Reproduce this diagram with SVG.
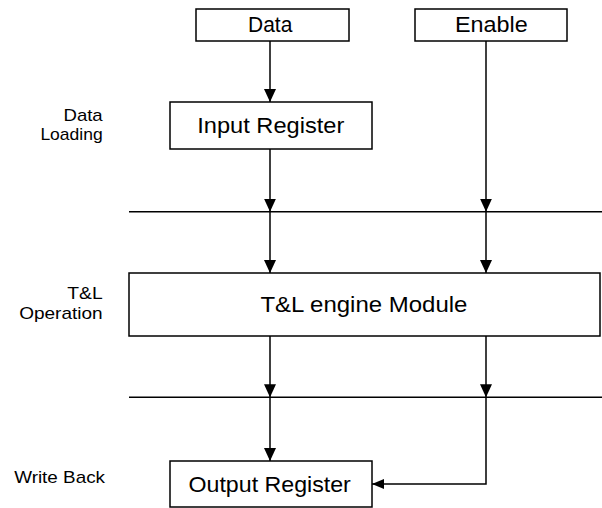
<svg xmlns="http://www.w3.org/2000/svg" width="602" height="508" viewBox="0 0 602 508">
  <style>
    .box { fill: #ffffff; stroke: #000000; stroke-width: 1.5; }
    .lbl { font-family: "Liberation Sans", Arial, sans-serif; font-size: 22px; fill: #000000; }
    .stage { font-family: "Liberation Sans", Arial, sans-serif; font-size: 17px; fill: #000000; }
    .sep { stroke: #000000; stroke-width: 1.5; fill: none; }
    .conn { stroke: #000000; stroke-width: 1.5; fill: none; }
  </style>
  <defs>
    <marker id="arrV" markerUnits="userSpaceOnUse" markerWidth="13" markerHeight="12" refX="13" refY="6" orient="auto">
      <path d="M0,0 L13,6 L0,12 Z" fill="#000000"/>
    </marker>
    <marker id="arrH" markerUnits="userSpaceOnUse" markerWidth="12" markerHeight="10" refX="12" refY="5" orient="auto">
      <path d="M0,0 L12,5 L0,10 Z" fill="#000000"/>
    </marker>
  </defs>
  <rect width="602" height="508" fill="#ffffff"/>

  <g id="stage-lines">
    <line class="sep" x1="129" y1="211.7" x2="602" y2="211.7"/>
    <line class="sep" x1="129" y1="397.3" x2="602" y2="397.3"/>
  </g>

  <g id="stage-labels">
    <text class="stage" x="63.5" y="120.5" textLength="39.2" lengthAdjust="spacingAndGlyphs">Data</text>
    <text class="stage" x="40.4" y="140" textLength="62.3" lengthAdjust="spacingAndGlyphs">Loading</text>
    <text class="stage" x="67.3" y="299" textLength="35.4" lengthAdjust="spacingAndGlyphs">T&amp;L</text>
    <text class="stage" x="19.2" y="318.5" textLength="83.5" lengthAdjust="spacingAndGlyphs">Operation</text>
    <text class="stage" x="14.2" y="483" textLength="90.8" lengthAdjust="spacingAndGlyphs">Write Back</text>
  </g>

  <g id="connectors">
    <line class="conn" x1="270" y1="41" x2="270" y2="102" marker-end="url(#arrV)"/>
    <line class="conn" x1="270" y1="149" x2="270" y2="211.7" marker-end="url(#arrV)"/>
    <line class="conn" x1="486" y1="41" x2="486" y2="211.7" marker-end="url(#arrV)"/>
    <line class="conn" x1="270" y1="211.7" x2="270" y2="273" marker-end="url(#arrV)"/>
    <line class="conn" x1="486" y1="211.7" x2="486" y2="273" marker-end="url(#arrV)"/>
    <line class="conn" x1="270" y1="336" x2="270" y2="397.3" marker-end="url(#arrV)"/>
    <line class="conn" x1="486" y1="336" x2="486" y2="397.3" marker-end="url(#arrV)"/>
    <line class="conn" x1="270" y1="397.3" x2="270" y2="461" marker-end="url(#arrV)"/>
    <polyline class="conn" points="486,397.3 486,484 372,484" marker-end="url(#arrH)"/>
  </g>

  <g id="data">
    <rect class="box" x="196" y="9" width="153" height="32"/>
    <text class="lbl" x="248" y="32" textLength="44.3" lengthAdjust="spacingAndGlyphs">Data</text>
  </g>
  <g id="enable">
    <rect class="box" x="415" y="9" width="152" height="32"/>
    <text class="lbl" x="455" y="32" textLength="72.7" lengthAdjust="spacingAndGlyphs">Enable</text>
  </g>
  <g id="input-register">
    <rect class="box" x="170" y="102" width="202" height="47"/>
    <text class="lbl" x="197.3" y="133" textLength="147" lengthAdjust="spacingAndGlyphs">Input Register</text>
  </g>
  <g id="tl-engine">
    <rect class="box" x="129" y="273" width="471" height="63"/>
    <text class="lbl" x="260.4" y="312.4" textLength="207" lengthAdjust="spacingAndGlyphs">T&amp;L engine Module</text>
  </g>
  <g id="output-register">
    <rect class="box" x="170" y="461" width="202" height="46"/>
    <text class="lbl" x="188.5" y="492" textLength="162.3" lengthAdjust="spacingAndGlyphs">Output Register</text>
  </g>
</svg>
